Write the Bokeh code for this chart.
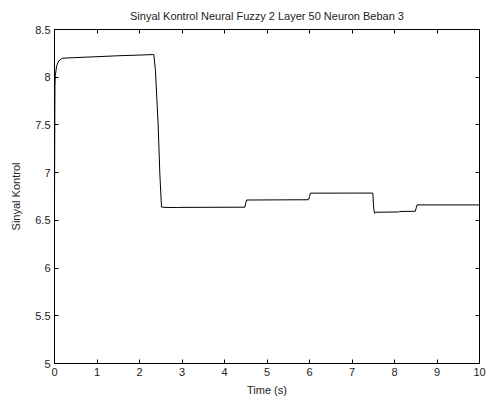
from bokeh.plotting import figure
from bokeh.models import Range1d, LinearAxis, FixedTicker
from bokeh.embed import file_html
from bokeh.resources import INLINE

# Control signal trace (time in seconds, signal value)
time_s = [0.0, 0.01, 0.02, 0.05, 0.10, 0.18, 0.30, 1.00, 1.50, 2.00, 2.30,
          2.336, 2.375, 2.438, 2.478, 2.518, 2.60, 2.90, 3.00, 4.48, 4.50,
          4.52, 5.98, 6.00, 6.02, 7.49, 7.51, 7.53, 7.56, 8.10, 8.12, 8.49,
          8.51, 8.53, 10.0]
sinyal = [6.70, 7.90, 8.02, 8.12, 8.17, 8.198, 8.202, 8.215, 8.225, 8.232, 8.237,
          8.238, 8.07, 7.51, 6.99, 6.64, 6.636, 6.634, 6.636, 6.638, 6.68,
          6.713, 6.716, 6.75, 6.785, 6.786, 6.63, 6.575, 6.585, 6.588, 6.593, 6.595,
          6.63, 6.662, 6.662]

x_ticks = [0, 1, 2, 3, 4, 5, 6, 7, 8, 9, 10]
y_ticks = [5, 5.5, 6, 6.5, 7, 7.5, 8, 8.5]

FONT = "Liberation Sans"

p = figure(width=491, height=399, output_backend="svg", toolbar_location=None,
           x_range=Range1d(0, 10), y_range=Range1d(5, 8.5),
           min_border_left=54, min_border_right=12, min_border_top=0,
           min_border_bottom=36,
           title="Sinyal Kontrol Neural Fuzzy 2 Layer 50 Neuron Beban 3")
p.title.align = "center"
p.title.text_font = FONT
p.title.text_font_size = "11px"
p.title.text_font_style = "normal"
p.title.text_color = "#222222"
p.title.standoff = 15

p.xgrid.visible = False
p.ygrid.visible = False
p.outline_line_color = "black"
p.background_fill_color = "white"
p.border_fill_color = "white"

p.line(time_s, sinyal, line_color="black", line_width=1)

p.xaxis.axis_label = "Time (s)"
p.yaxis.axis_label = "Sinyal Kontrol"
p.xaxis.ticker = FixedTicker(ticks=x_ticks)
p.yaxis.ticker = FixedTicker(ticks=y_ticks)

for ax in (p.xaxis[0], p.yaxis[0]):
    ax.axis_line_color = "black"
    ax.major_tick_line_color = "black"
    ax.major_tick_in = 4
    ax.major_tick_out = 0
    ax.minor_tick_line_color = None
    ax.major_label_text_font = FONT
    ax.major_label_text_font_size = "11px"
    ax.major_label_text_color = "#222222"
    ax.axis_label_text_font = FONT
    ax.axis_label_text_font_size = "11px"
    ax.axis_label_text_font_style = "normal"
    ax.axis_label_text_color = "#222222"
    ax.major_label_standoff = 4

p.xaxis.axis_label_standoff = 5
p.yaxis.axis_label_standoff = 10

# box ticks on the top and right edges (no labels)
top = LinearAxis(ticker=FixedTicker(ticks=x_ticks))
right = LinearAxis(ticker=FixedTicker(ticks=y_ticks))
for ax in (top, right):
    ax.axis_line_color = "black"
    ax.major_tick_line_color = "black"
    ax.major_tick_in = 4
    ax.major_tick_out = 0
    ax.minor_tick_line_color = None
    ax.major_label_text_color = None
    ax.major_label_text_font_size = "1px"
    ax.major_label_standoff = 0
p.add_layout(top, "above")
p.add_layout(right, "right")

open("out.html", "w").write(file_html(p, INLINE))
